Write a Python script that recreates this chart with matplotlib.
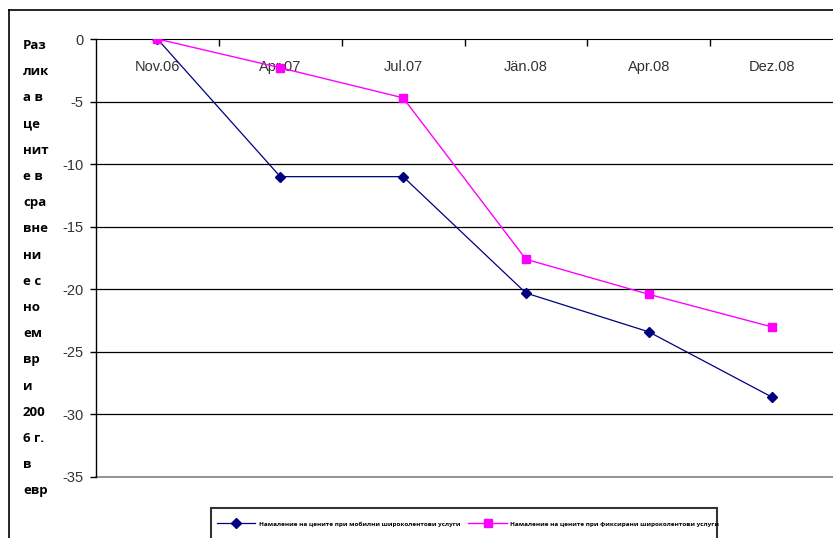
import matplotlib.pyplot as plt
from matplotlib.lines import Line2D
from matplotlib.patches import Rectangle

plt.rcParams['axes.unicode_minus'] = False

# price change vs. November 2006, in euro
periods = ['Nov.06', 'Apr.07', 'Jul.07', 'Jän.08', 'Apr.08', 'Dez.08']
mobile = [0, -11.0, -11.0, -20.3, -23.4, -28.6]
fixed = [0, -2.3, -4.7, -17.6, -20.4, -23.0]
yticks = [0, -5, -10, -15, -20, -25, -30, -35]
ylabel_lines = ['Раз', 'лик', 'а в', 'це', 'нит', 'е в', 'сра', 'вне', 'ни',
                'е с', 'но', 'ем', 'вр', 'и', '200', '6 г.', 'в', 'евр']
mobile_name = 'Намаление на цените при мобилни широколентови услуги'
fixed_name = 'Намаление на цените при фиксирани широколентови услуги'

W, H = 833, 538
fig = plt.figure(figsize=(W / 100, H / 100), dpi=100)
ax = fig.add_axes([96 / W, (H - 477) / H, 737 / W, 438 / H])

x = list(range(len(periods)))
l1, = ax.plot(x, mobile, color='#000080', lw=0.9, marker='D', ms=5,
              label=mobile_name, zorder=3)
l2, = ax.plot(x, fixed, color='#FF00FF', lw=1.0, marker='s', ms=6,
              label=fixed_name, zorder=3)

ax.set_xlim(-0.5, len(periods) - 0.5)
ax.set_ylim(-35, 0)

# horizontal gridlines
for v in yticks[1:-1]:
    ax.axhline(v, color='black', lw=0.9, zorder=1)
ax.axhline(-35, color='#808080', lw=1.2, zorder=1, clip_on=False)

for s in ['top', 'right']:
    ax.spines[s].set_visible(False)
ax.spines['bottom'].set_position(('data', 0))
ax.spines['bottom'].set_color('black')
ax.spines['left'].set_color('black')
ax.spines['left'].set_linewidth(1.0)

ax.set_xticks(x)
ax.set_xticklabels(periods)
ax.set_xticks([i + 0.5 for i in x[:-1]], minor=True)
ax.tick_params(axis='x', which='major', length=0, pad=15,
               labelsize=10.5, labelcolor='#333333')
ax.tick_params(axis='x', which='minor', length=5, direction='out', width=1)
ax.set_yticks(yticks)
ax.tick_params(axis='y', length=4, width=1, pad=5,
               labelsize=10.5, labelcolor='#333333')
for t in ax.get_xticklabels() + ax.get_yticklabels():
    t.set_family('Liberation Sans')

# wrapped vertical axis title
for i, s in enumerate(ylabel_lines):
    fig.text(23 / W, 1 - (49 + 26.2 * i) / H, s, fontsize=9.5,
             fontweight='bold', family='Open Sans', va='baseline', ha='left')

# outer chart border (left and top edges)
fig.add_artist(Line2D([8.5 / W, 8.5 / W], [0, 1 - 10 / H], color='black',
                      lw=1.2, transform=fig.transFigure))
fig.add_artist(Line2D([8.5 / W, 1], [1 - 10 / H, 1 - 10 / H], color='black',
                      lw=1.2, transform=fig.transFigure))

# legend box
fig.add_artist(Rectangle((211 / W, -10 / H), (717 - 211) / W, (H - 507.7 + 10) / H,
                         transform=fig.transFigure, fill=False,
                         edgecolor='#333333', lw=1.5))
fig.legend(handles=[l1, l2], loc='center left',
           bbox_to_anchor=(211 / W, 1 - 524 / H), ncol=2, frameon=False,
           prop={'family': 'Open Sans', 'weight': 'bold', 'size': 4.6},
           handlelength=6.0, handletextpad=0.55, columnspacing=1.3,
           borderpad=0, borderaxespad=0.9)

fig.savefig('out.png', dpi=100)
